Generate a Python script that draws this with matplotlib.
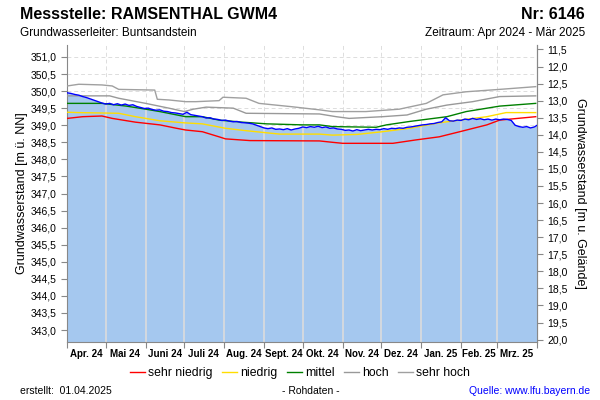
import numpy as np
import matplotlib
matplotlib.use("Agg")
import matplotlib.pyplot as plt
import matplotlib.dates as mdates
from matplotlib.ticker import FuncFormatter, MultipleLocator

plt.rcParams['font.family'] = ['Liberation Sans', 'DejaVu Sans']

# measured level (m ü. NN), every 3 days from 2024-04-01
mess_start = np.datetime64('2024-04-01')
mess_step = 3
mess_werte = [349.95, 349.93, 349.90, 349.88, 349.84, 349.81, 349.77, 349.73, 349.69, 349.65,
              349.62, 349.64, 349.60, 349.63, 349.59, 349.62, 349.58, 349.60, 349.55, 349.52,
              349.49, 349.50, 349.46, 349.44, 349.45, 349.41, 349.40, 349.37, 349.36, 349.34,
              349.32, 349.38, 349.31, 349.29, 349.27, 349.25, 349.21, 349.22, 349.18, 349.17,
              349.14, 349.15, 349.12, 349.10, 349.11, 349.08, 349.07, 349.06, 349.04, 349.00,
              348.96, 348.92, 348.90, 348.92, 348.88, 348.89, 348.87, 348.90, 348.86, 348.89,
              348.91, 348.95, 348.93, 348.96, 348.94, 348.97, 348.93, 348.95, 348.91, 348.92,
              348.89, 348.88, 348.85, 348.86, 348.83, 348.87, 348.84, 348.86, 348.88, 348.86,
              348.88, 348.87, 348.90, 348.88, 348.91, 348.90, 348.92, 348.91, 348.94, 348.95,
              348.97, 348.99, 349.01, 349.02, 349.04, 349.05, 349.08, 349.10, 349.22, 349.13,
              349.12, 349.15, 349.14, 349.18, 349.16, 349.20, 349.17, 349.19, 349.16, 349.18,
              349.15, 349.18, 349.16, 349.18, 349.17, 349.14, 349.00, 348.96, 348.94, 348.96,
              348.92, 348.95, 349.02]

sehr_hoch_t = ['2024-04-01', '2024-04-10', '2024-04-28', '2024-05-06', '2024-05-11', '2024-06-08',
               '2024-06-10', '2024-06-19', '2024-07-02', '2024-07-10', '2024-07-28', '2024-07-31',
               '2024-08-18', '2024-08-28', '2024-09-23', '2024-10-14', '2024-10-24', '2024-11-19',
               '2024-12-15', '2025-01-05', '2025-01-18', '2025-02-05', '2025-03-03', '2025-03-31']
sehr_hoch_w = [350.15, 350.20, 350.18, 350.15, 350.05, 350.03, 349.76, 349.74, 349.69, 349.69,
               349.72, 349.82, 349.79, 349.64, 349.54, 349.45, 349.40, 349.40, 349.47, 349.64,
               349.89, 349.98, 350.05, 350.13]

hoch_t = ['2024-04-01', '2024-05-04', '2024-05-11', '2024-06-01', '2024-06-19', '2024-07-01',
          '2024-07-08', '2024-07-18', '2024-08-08', '2024-08-18', '2024-10-14', '2024-10-27',
          '2024-11-06', '2024-12-02', '2024-12-21', '2025-01-05', '2025-01-21', '2025-02-10',
          '2025-03-03', '2025-03-31']
hoch_w = [349.86, 349.86, 349.79, 349.64, 349.50, 349.40, 349.47, 349.53, 349.50, 349.35,
          349.33, 349.25, 349.20, 349.25, 349.30, 349.47, 349.59, 349.69, 349.84, 349.86]

mittel_t = ['2024-04-01', '2024-04-28', '2024-05-17', '2024-06-01', '2024-06-12', '2024-07-02',
            '2024-07-15', '2024-07-28', '2024-08-15', '2024-09-03', '2024-10-01', '2024-10-14',
            '2024-10-24', '2024-11-27', '2024-12-05', '2024-12-23', '2025-01-21', '2025-02-05',
            '2025-03-03', '2025-03-31']
mittel_w = [349.64, 349.64, 349.56, 349.47, 349.40, 349.25, 349.25, 349.15, 349.09, 349.04,
            349.01, 349.01, 348.96, 348.94, 349.01, 349.11, 349.25, 349.40, 349.56, 349.64]

niedrig_t = ['2024-04-01', '2024-04-10', '2024-05-11', '2024-05-24', '2024-06-01', '2024-06-12',
             '2024-07-01', '2024-07-15', '2024-08-02', '2024-08-18', '2024-09-13', '2024-10-14',
             '2024-10-24', '2024-11-12', '2024-12-02', '2024-12-23', '2025-01-15', '2025-01-31',
             '2025-02-21', '2025-03-08', '2025-03-31']
niedrig_w = [349.38, 349.37, 349.35, 349.25, 349.20, 349.13, 349.07, 349.04, 348.91, 348.84,
             348.74, 348.74, 348.71, 348.73, 348.81, 348.91, 349.07, 349.15, 349.25, 349.37, 349.37]

sehr_niedrig_t = ['2024-04-01', '2024-04-13', '2024-04-28', '2024-05-06', '2024-05-24', '2024-06-12',
                  '2024-06-25', '2024-07-02', '2024-07-15', '2024-07-28', '2024-08-02', '2024-08-21',
                  '2024-10-14', '2024-10-24', '2024-11-01', '2024-12-10', '2024-12-28', '2025-01-15',
                  '2025-01-31', '2025-02-21', '2025-03-03', '2025-03-31']
sehr_niedrig_w = [349.20, 349.25, 349.27, 349.20, 349.09, 349.01, 348.91, 348.86, 348.81, 348.66,
                  348.60, 348.55, 348.54, 348.50, 348.47, 348.47, 348.57, 348.66, 348.81, 349.01,
                  349.15, 349.25]

monate = ['Apr. 24', 'Mai 24', 'Juni 24', 'Juli 24', 'Aug. 24', 'Sept. 24', 'Okt. 24',
          'Nov. 24', 'Dez. 24', 'Jan. 25', 'Feb. 25', 'Mrz. 25']
gelaende = 362.72  # ground level, m ü. NN


def to_dates(strs):
    return np.array(strs, dtype='datetime64[D]')


mess_t = mess_start + np.arange(len(mess_werte)) * mess_step
monat_start = np.arange(np.datetime64('2024-04'), np.datetime64('2025-05'),
                        np.timedelta64(1, 'M')).astype('datetime64[D]')
monat_mitte = monat_start[:-1] + (monat_start[1:] - monat_start[:-1]) // 2

fig = plt.figure(figsize=(6, 4), dpi=100)
ax = fig.add_axes([0.112, 0.145, 0.783, 0.7425])

ymin, ymax = 342.65, 351.35
ax.set_ylim(ymin, ymax)
ax.set_xlim(monat_start[0], monat_start[-1])

# dashed grid behind everything
ax.grid(True, which='major', color='#dddddd', linestyle=(0, (4, 3)), linewidth=0.7, zorder=0)
ax.set_axisbelow(True)

ax.fill_between(mess_t, mess_werte, ymin, color='#a5c8ef', linewidth=0, zorder=1)
# month separators inside the fill
mess_num = mdates.date2num(mess_t)
for d in monat_start[1:-1]:
    top = np.interp(mdates.date2num(d), mess_num, mess_werte)
    ax.vlines(d, ymin, top, color='#dcdcdc', linewidth=1.2, zorder=1.5)

ax.plot(to_dates(sehr_niedrig_t), sehr_niedrig_w, color='#ff0000', lw=1, zorder=3, label='sehr niedrig')
ax.plot(to_dates(niedrig_t), niedrig_w, color='#ffdd00', lw=1, zorder=3, label='niedrig')
ax.plot(to_dates(mittel_t), mittel_w, color='#008000', lw=1, zorder=3, label='mittel')
ax.plot(to_dates(hoch_t), hoch_w, color='#999999', lw=1, zorder=3, label='hoch')
ax.plot(to_dates(sehr_hoch_t), sehr_hoch_w, color='#a0a0a0', lw=1, zorder=3, label='sehr hoch')
ax.plot(mess_t, mess_werte, color='#0000ff', lw=1, zorder=4)

komma = FuncFormatter(lambda v, p: f'{v:.1f}'.replace('.', ','))
ax.yaxis.set_major_locator(MultipleLocator(0.5))
ax.yaxis.set_major_formatter(komma)
ax.set_xticks(monat_start)
ax.set_xticklabels([])
ax.set_xticks(monat_mitte, minor=True)
ax.set_xticklabels(monate, minor=True, fontsize=7, fontweight='bold')
ax.tick_params(axis='x', which='minor', length=0, pad=5)
ax.tick_params(axis='x', which='major', length=4, color='#888888')
ax.tick_params(axis='y', labelsize=7.5, length=4, color='#888888')

ax.spines['top'].set_visible(False)
for s in ['left', 'right', 'bottom']:
    ax.spines[s].set_color('#888888')

sec = ax.secondary_yaxis('right', functions=(lambda v: gelaende - v, lambda d: gelaende - d))
sec.set_yticks(np.arange(11.5, 20.01, 0.5))
sec.yaxis.set_major_formatter(komma)
sec.tick_params(labelsize=7.5, length=4, color='#888888')
sec.spines['right'].set_color('#888888')

fig.text(0.037, 0.516, 'Grundwasserstand [m ü. NN]', rotation=90, ha='center', va='center', fontsize=9)
fig.text(0.967, 0.516, 'Grundwasserstand [m u. Gelände]', rotation=270, ha='center', va='center', fontsize=9)

fig.text(0.033, 0.963, 'Messstelle: RAMSENTHAL GWM4', fontsize=11.5, fontweight='bold', va='center')
fig.text(0.975, 0.963, 'Nr: 6146', fontsize=11.5, fontweight='bold', va='center', ha='right')
fig.text(0.033, 0.918, 'Grundwasserleiter: Buntsandstein', fontsize=8.5, va='center')
fig.text(0.975, 0.918, 'Zeitraum: Apr 2024 - Mär 2025', fontsize=8.5, va='center', ha='right')

fig.legend(loc='center', bbox_to_anchor=(0.5, 0.068), ncol=5, frameon=False, fontsize=8.8,
           handlelength=1.2, handletextpad=0.25, columnspacing=0.8)

fig.text(0.033, 0.022, 'erstellt:  01.04.2025', fontsize=7.5, va='center')
fig.text(0.518, 0.022, '- Rohdaten -', fontsize=7.5, va='center', ha='center')
fig.text(0.983, 0.022, 'Quelle: www.lfu.bayern.de', fontsize=7.5, va='center', ha='right', color='#0000ff')

fig.savefig('out.png', dpi=100)
